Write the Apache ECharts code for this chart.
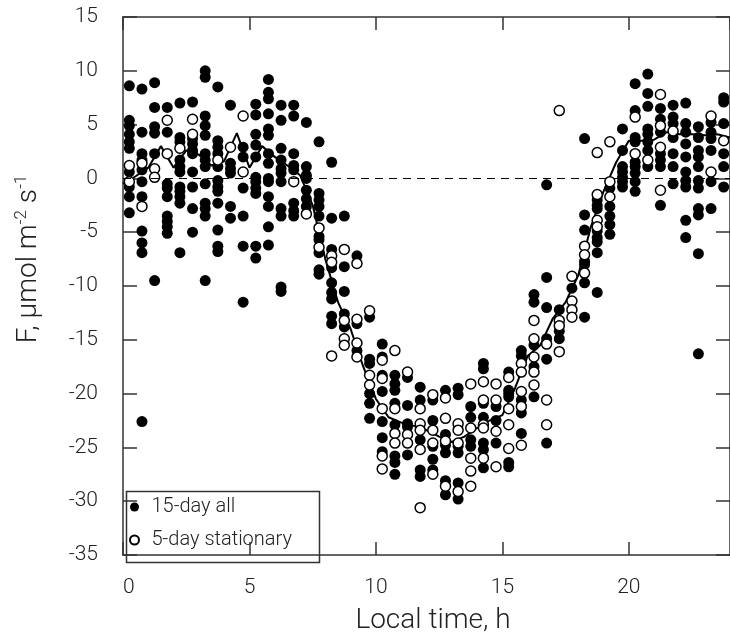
<!DOCTYPE html>
<html>
<head>
<meta charset="utf-8">
<script src="https://cdn.jsdelivr.net/npm/echarts@6/dist/echarts.min.js"></script>
<style>
html,body{margin:0;padding:0;background:#fff;}
#chart{width:730px;height:640px;}
</style>
</head>
<body>
<div id="chart"></div>
<script>
// half-hour bin centres (local time, h)
const hours = [0.25,0.75,1.25,1.75,2.25,2.75,3.25,3.75,4.25,4.75,5.25,5.75,6.25,6.75,7.25,7.75,8.25,8.75,9.25,9.75,10.25,10.75,11.25,11.75,12.25,12.75,13.25,13.75,14.25,14.75,15.25,15.75,16.25,16.75,17.25,17.75,18.25,18.75,19.25,19.75,20.25,20.75,21.25,21.75,22.25,22.75,23.25,23.75];

// 15-day all: flux values in each bin
const allFlux = [
  [8.6,5.4,4.9,4.1,3.4,2.8,0.6,-0.8,-1.7,-3.2],
  [8.3,4.3,2.3,1.7,0.8,-0.3,-1.7,-4.9,-6.0,-6.9,-22.6],
  [8.9,6.6,4.8,4.2,2.3,-9.5],
  [6.6,4.3,-0.5,-0.9,-1.7,-3.5,-4.0,-4.5,-5.1],
  [7.0,3.8,3.4,1.7,1.1,0.6,-0.8,-1.2,-1.7,-2.3,-6.9],
  [7.1,3.7,3.2,2.6,2.3,0.6,-0.8,-2.8,-5.0],
  [10.0,9.4,5.8,4.9,4.0,2.3,1.7,1.1,-0.5,-2.3,-2.8,-3.5,-9.5],
  [8.5,3.5,2.9,2.3,1.1,-0.2,-0.8,-1.2,-2.3,-4.8,-6.3,-6.8],
  [6.8,1.4,0.9,0.5,-2.6,-3.7],
  [2.9,2.0,-0.9,-3.5,-6.3,-11.5],
  [6.9,5.9,4.1,3.1,2.0,0.1,-0.3,-0.9,-1.4,-6.3,-7.4],
  [9.2,8.0,7.4,6.0,4.6,4.0,2.3,1.4,0.0,-0.3,-1.7,-2.6,-4.5,-6.2],
  [6.8,5.4,2.8,1.7,0.9,0.5,-0.3,-2.8,-3.5,-10.1,-10.5],
  [6.8,5.8,2.3,1.2,0.8,-2.3,-3.0,-3.5],
  [5.2,1.1,0.3,0.0,-1.1,-1.9,-2.6],
  [3.4,-1.4,-2.0,-2.6,-3.5,-5.4,-5.7,-6.9,-8.5,-8.9],
  [1.5,-3.7,-6.6,-8.3,-9.7,-10.6,-11.2,-12.8,-13.5],
  [-3.5,-8.2,-10.5,-12.6,-13.8],
  [-7.2,-13.5,-16.0],
  [-12.9,-16.8,-17.2,-20.0,-20.9,-22.3],
  [-15.4,-16.6,-18.3,-19.8,-22.6,-24.1,-25.4],
  [-18.3,-19.1,-19.7,-20.9,-22.9,-25.8,-26.4,-27.5],
  [-18.5,-21.1,-22.8,-23.1,-25.7],
  [-19.4,-20.6,-24.3,-27.1,-27.7],
  [-20.6,-22.5,-24.9,-26.1,-27.1],
  [-19.7,-23.8,-24.8,-25.5,-28.1,-29.4],
  [-19.5,-20.1,-24.9,-25.5,-28.3,-29.8],
  [-21.2,-22.2,-24.3,-24.9],
  [-17.2,-17.7,-20.9,-22.2,-24.6,-25.2,-26.9],
  [-21.2,-22.5,-24.6],
  [-18.0,-19.7,-20.0,-20.3,-26.4,-26.8],
  [-16.0,-16.5,-20.6,-21.8,-23.7],
  [-10.8,-11.5,-15.5,-17.5,-20.3],
  [-0.6,-9.2,-12.0,-14.9,-16.8,-24.6],
  [-12.2,-14.2,-14.9],
  [-10.2],
  [3.7,-3.4,-4.8,-7.7,-8.0,-9.7,-12.9],
  [-2.0,-2.5,-2.8,-4.9,-5.5,-5.9,-6.9,-10.6],
  [-0.9,-2.6,-3.5,-4.3,-5.2],
  [4.6,2.6,1.1,0.6,0.1,-0.3,-0.8],
  [8.8,6.3,3.8,3.4,1.5,1.1,0.5,-0.3,-1.2],
  [9.7,7.9,6.7,4.6,4.1,3.4,2.6,1.1],
  [6.5,5.5,4.3,2.3,1.7,1.1,-2.5],
  [6.8,5.7,5.1,3.8,2.3,1.1,-0.5],
  [7.0,5.1,4.3,3.2,2.0,0.6,-0.2,-0.8,-3.9,-5.5],
  [4.8,3.8,2.6,2.0,1.1,-0.2,-0.9,-2.8,-3.4,-7.0,-16.3],
  [5.2,4.3,3.7,2.6,-0.3,-2.8],
  [7.5,7.1,5.1,2.3,1.1,-0.8]
];

// 5-day stationary: flux values in each bin
const stationaryFlux = [
  [1.2,-0.3],[1.4,-2.6],[0.9,0.1],[5.4,2.3],[2.8],[5.5,4.1],[],[1.7],[2.9],[5.8,0.6],
  [],[],[],[-0.3],[-3.3],[-4.6,-6.4],[-7.2,-7.8,-16.5],[-6.6,-13.2,-14.9,-15.5],[-7.9,-13.1,-15.3,-16.6],[-12.3,-18.3,-19.2],
  [-16.9,-18.6,-21.4,-25.8,-27.0],[-16.0,-21.4,-23.7,-24.6],[-18.0,-23.8,-24.6],[-21.4,-22.8,-23.4,-25.2,-30.6],[-20.1,-23.4,-24.6,-27.5],
  [-20.4,-22.3,-24.4,-28.6],[-22.8,-23.4,-24.6,-29.1],[-19.1,-23.2,-26.0,-27.2,-28.6],[-18.9,-20.6,-22.9,-23.2,-26.0],[-19.1,-20.6,-23.5,-26.8],
  [-18.5,-21.4,-22.9,-25.1],[-17.2,-18.0,-19.8,-21.2,-24.8],[-13.2,-14.9,-16.6,-18.0,-19.2],[-15.4,-20.6,-22.9],[6.3,-13.2,-13.7,-16.1],
  [-9.1,-11.4,-12.2,-12.9],[-6.3,-7.1,-8.8],[2.4,-1.5,-3.9,-4.5],[3.4,-0.3,-1.7],[],
  [5.7,2.3],[1.7],[7.8,4.9,2.9,-1.1],[4.4],[],[],[5.8,0.6],[3.5]
];

// mean curve
const meanTimes = [0,0.5,1,1.5,2,2.5,3,3.5,4,4.5,5,5.5,6,6.5,7,7.5,8,8.5,9,9.5,10,10.5,11,11.5,12,12.5,13,13.5,14,14.5,15,15.5,16,16.5,17,17.5,18,18.5,19,19.5,20,20.5,21,21.5,22,22.5,23,23.5,24];
const meanFlux = [-0.5,0.2,1.0,3.0,1.0,2.6,2.2,1.2,1.6,4.2,1.0,3.0,2.0,1.2,0.3,-2.5,-7.5,-11.5,-14.0,-17.5,-20.5,-22.2,-22.7,-23.0,-23.4,-24.0,-24.5,-24.0,-23.2,-22.5,-22.0,-19.5,-16.5,-15.5,-13.0,-11.5,-9.0,-4.5,-1.2,1.5,3.5,3.5,3.6,4.3,4.1,4.1,4.0,4.1,3.8];

const allData = [];
hours.forEach((h, i) => allFlux[i].forEach(v => allData.push([h, v])));
const statData = [];
hours.forEach((h, i) => stationaryFlux[i].forEach(v => statData.push([h, v])));
const meanData = meanTimes.map((t, i) => [t, meanFlux[i]]);

const FONT = 'Roboto, "Liberation Sans", sans-serif';
const axisCol = '#333';

const chart = echarts.init(document.getElementById('chart'), null, {renderer: 'canvas'});
chart.setOption({
  animation: false,
  backgroundColor: '#fff',
  grid: {left: 123, top: 17, width: 617, height: 542.5, containLabel: false},
  xAxis: [{
    type: 'value', min: 0, max: 24, interval: 5, position: 'bottom',
    axisLine: {show: true, onZero: false, lineStyle: {color: axisCol, width: 1.5}},
    axisTick: {show: true, inside: true, length: 13, lineStyle: {color: axisCol, width: 1.5}},
    axisLabel: {show: true, margin: 22, fontSize: 21, color: '#222', fontFamily: FONT, fontWeight: 300, showMaxLabel: false, alignMinLabel: 'left'},
    splitLine: {show: false},
    name: 'Local time, h', nameLocation: 'middle', nameGap: 52,
    nameTextStyle: {fontSize: 28, color: '#222', fontFamily: FONT, fontWeight: 300, padding: [0, 0, 0, 13]}
  }, {
    type: 'value', min: 0, max: 24, interval: 5, position: 'top',
    axisLine: {show: true, onZero: false, lineStyle: {color: axisCol, width: 1.5}},
    axisTick: {show: true, inside: true, length: 13, lineStyle: {color: axisCol, width: 1.5}},
    axisLabel: {show: false}, splitLine: {show: false}
  }],
  yAxis: [{
    type: 'value', min: -35, max: 15, interval: 5, position: 'left',
    axisLine: {show: true, onZero: false, lineStyle: {color: axisCol, width: 1.5}},
    axisTick: {show: true, inside: true, length: 14, lineStyle: {color: axisCol, width: 1.5}},
    axisLabel: {show: true, margin: 25, fontSize: 21, color: '#222', fontFamily: FONT, fontWeight: 300},
    splitLine: {show: false},
    name: '{a|F, μmol m}{s|-2}{a| s}{s|-1}', nameLocation: 'middle', nameGap: 80,
    nameTextStyle: {
      fontFamily: FONT, color: '#222', padding: [0, 0, 0, 54],
      rich: {
        a: {fontSize: 28, fontFamily: FONT, fontWeight: 300, color: '#222', lineHeight: 30, verticalAlign: 'bottom'},
        s: {fontSize: 17, fontFamily: FONT, fontWeight: 300, color: '#222', lineHeight: 30, verticalAlign: 'top'}
      }
    }
  }, {
    type: 'value', min: -35, max: 15, interval: 5, position: 'right',
    axisLine: {show: true, onZero: false, lineStyle: {color: axisCol, width: 1.5}},
    axisTick: {show: true, inside: true, length: 14, lineStyle: {color: axisCol, width: 1.5}},
    axisLabel: {show: false}, splitLine: {show: false}
  }],
  legend: {
    show: true, orient: 'vertical', left: 124, top: 489,
    padding: [8, 0, 0, 5], itemGap: 13, itemWidth: 24, itemHeight: 9,
    icon: 'circle',
    data: ['15-day all', '5-day stationary'],
    textStyle: {fontSize: 20, lineHeight: 20, color: '#222', fontFamily: FONT, fontWeight: 300}
  },
  graphic: [{
    type: 'rect', left: 124, top: 489, z: 10, silent: true,
    shape: {width: 193, height: 71},
    style: {fill: 'none', stroke: axisCol, lineWidth: 1.5}
  }],
  series: [{
    name: '15-day all', type: 'scatter', data: allData, symbol: 'circle', symbolSize: 11,
    itemStyle: {color: '#000', opacity: 1}, z: 2,
    markLine: {
      silent: true, symbol: ['none', 'none'], label: {show: false},
      lineStyle: {color: '#000', width: 1, type: [8, 6]},
      data: [{yAxis: 0}]
    }
  }, {
    name: 'mean', type: 'line', data: meanData, showSymbol: false, symbol: 'none',
    lineStyle: {color: '#000', width: 2}, z: 3
  }, {
    name: '5-day stationary', type: 'scatter', data: statData, symbol: 'circle', symbolSize: 10,
    itemStyle: {color: '#fff', borderColor: '#000', borderWidth: 1.5, opacity: 1}, z: 4
  }]
});
</script>
</body>
</html>
